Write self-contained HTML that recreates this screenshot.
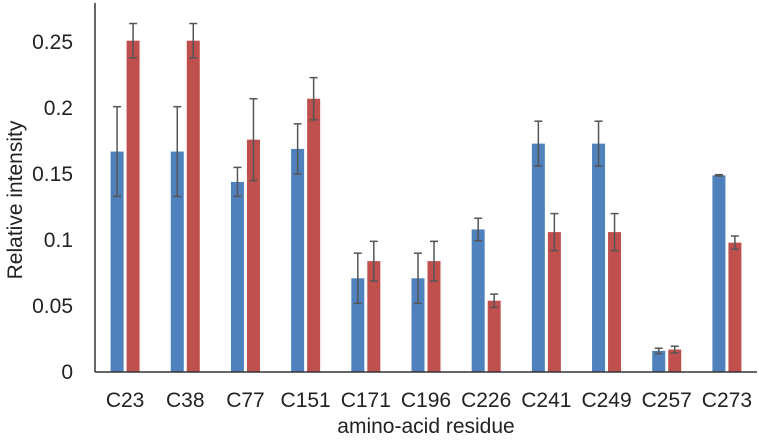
<!DOCTYPE html>
<html><head><meta charset="utf-8"><style>
body{margin:0;background:#fff;}
svg text{font-family:"Liberation Sans",Arial,sans-serif;fill:#222;}
</style></head><body>
<svg id="chart" width="759" height="441" viewBox="0 0 759 441"></svg>
<script>
const categories=["C23","C38","C77","C151","C171","C196","C226","C241","C249","C257","C273"];
const blueVals=[0.167,0.167,0.144,0.169,0.071,0.071,0.108,0.173,0.173,0.016,0.149];
const blueErr=[0.034,0.034,0.011,0.019,0.019,0.019,0.0085,0.017,0.017,0.002,0.0005];
const redVals=[0.251,0.251,0.176,0.207,0.084,0.084,0.054,0.106,0.106,0.017,0.098];
const redErr=[0.013,0.013,0.031,0.016,0.015,0.015,0.005,0.014,0.014,0.0025,0.005];
const yTicks=[0,0.05,0.1,0.15,0.2,0.25];
const yTickLabels=["0","0.05","0.1","0.15","0.2","0.25"];

const NS="http://www.w3.org/2000/svg";
const svg=document.getElementById('chart');
const X0=95,X1=757,Y0=372,PX_PER=1320;
const step=(X1-X0)/categories.length;
const y=v=>Y0-v*PX_PER;
const xc=i=>X0+step*(i+0.5);
function mk(tag,attrs){const e=document.createElementNS(NS,tag);for(const k in attrs)e.setAttribute(k,attrs[k]);svg.appendChild(e);return e;}

yTicks.forEach((t,i)=>{
  const tx=mk('text',{x:73,y:y(t)+7,'text-anchor':'end','font-size':21});
  tx.textContent=yTickLabels[i];
  
  
});
const bw=13,gap=3;
function errBar(cx,v,e,name){
  const g=document.createElementNS(NS,'g');svg.appendChild(g);
  
  
  const top=y(v+e),bot=y(v-e);
  [[cx,top,cx,bot],[cx-4,top,cx+4,top],[cx-4,bot,cx+4,bot]].forEach(l=>{
    const ln=document.createElementNS(NS,'line');
    ln.setAttribute('x1',l[0]);ln.setAttribute('y1',l[1]);ln.setAttribute('x2',l[2]);ln.setAttribute('y2',l[3]);
    ln.setAttribute('stroke','#555');ln.setAttribute('stroke-width','1.5');
    g.appendChild(ln);
  });
}
categories.forEach((c,i)=>{
  const cx=xc(i);
  const bx=cx-gap/2-bw, rx=cx+gap/2;
  const b=mk('rect',{x:bx,y:y(blueVals[i]),width:bw,height:Y0-y(blueVals[i]),fill:'#4F81BD'});
  
  
  const r=mk('rect',{x:rx,y:y(redVals[i]),width:bw,height:Y0-y(redVals[i]),fill:'#C0504D'});
  
  
  errBar(bx+bw/2,blueVals[i],blueErr[i],'error-bar-blue');
  errBar(rx+bw/2,redVals[i],redErr[i],'error-bar-red');
  const t=mk('text',{x:cx,y:407,'text-anchor':'middle','font-size':21});
  t.textContent=c;
  
  
});
const ya=mk('line',{x1:X0,y1:3,x2:X0,y2:Y0,stroke:'#333','stroke-width':1.5});


const xa=mk('line',{x1:X0,y1:Y0,x2:X1,y2:Y0,stroke:'#333','stroke-width':1.5});


const yt=mk('text',{x:0,y:0,'text-anchor':'middle','font-size':21,transform:'translate(22,200) rotate(-90)'});
yt.textContent='Relative intensity';


const xt=mk('text',{x:426,y:433,'text-anchor':'middle','font-size':21});
xt.textContent='amino-acid residue';


</script>
</body></html>
